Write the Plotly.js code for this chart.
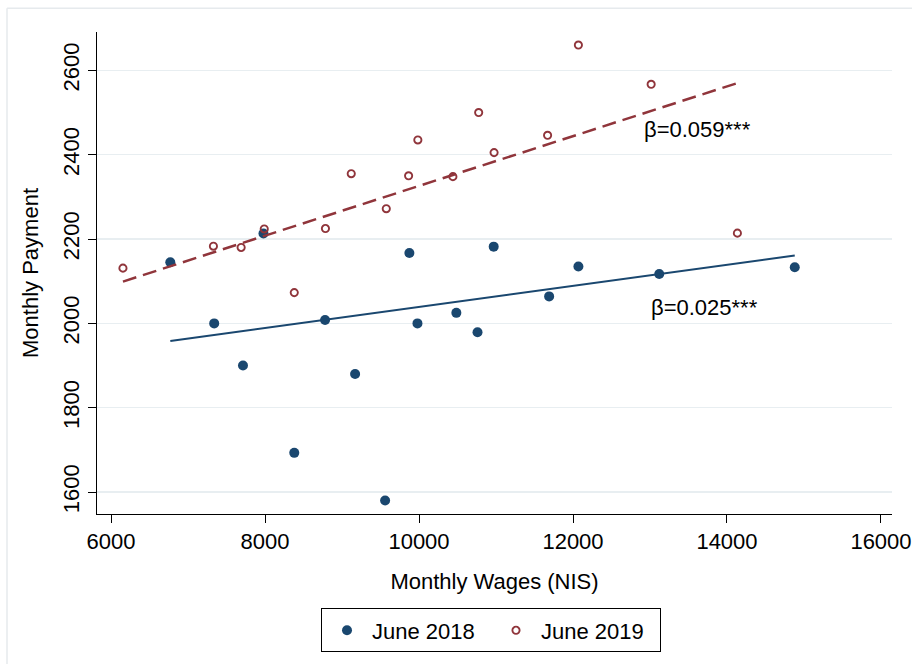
<!DOCTYPE html>
<html>
<head>
<meta charset="utf-8">
<script src="https://cdn.plot.ly/plotly-3.0.1.min.js"></script>
<style>
  html, body { margin: 0; padding: 0; background: #ffffff; }
  #chart { width: 912px; height: 664px; }
</style>
</head>
<body>
<div id="chart"></div>
<script>
// Monthly wages (NIS) and monthly payments, by survey wave
const wages2018 = [6770, 7980, 7340, 7714, 8380, 8780, 9170, 9560, 9875, 9980, 10485, 10760, 10970, 11690, 12070, 13120, 14880];
const payment2018 = [2145, 2213, 2000, 1900, 1693, 2008, 1880, 1580, 2167, 2000, 2025, 1979, 2182, 2064, 2135, 2117, 2133];

const wages2019 = [6155, 7330, 7690, 7990, 8380, 8785, 9120, 9575, 9865, 9985, 10440, 10775, 10975, 11670, 12070, 13015, 14135];
const payment2019 = [2131, 2183, 2180, 2224, 2073, 2225, 2355, 2272, 2350, 2435, 2348, 2500, 2405, 2446, 2660, 2567, 2214];

// Linear fits (slope = reported coefficient)
const seriesNames = ["June 2018", "June 2019"];
const fitSlopes = [0.025, 0.059];
const fitIntercepts = [1789, 1736];
const significance = ["***", "***"];

const xTicks = [6000, 8000, 10000, 12000, 14000, 16000];
const yTicks = [1600, 1800, 2000, 2200, 2400, 2600];

const navy = "#1a476f";
const maroon = "#90353b";
const font = "'Liberation Sans', Arial, Helvetica, sans-serif";

function fitLine(xs, slope, intercept) {
  const lo = Math.min(...xs), hi = Math.max(...xs);
  return { x: [lo, hi], y: [intercept + slope * lo, intercept + slope * hi] };
}
const fit2018 = fitLine(wages2018, fitSlopes[0], fitIntercepts[0]);
const fit2019 = fitLine(wages2019, fitSlopes[1], fitIntercepts[1]);

const traces = [
  {
    type: "scatter", mode: "markers", name: seriesNames[0],
    x: wages2018, y: payment2018,
    marker: { color: navy, size: 10, symbol: "circle" }
  },
  {
    type: "scatter", mode: "markers", name: seriesNames[1],
    x: wages2019, y: payment2019,
    marker: { color: maroon, size: 7.2, symbol: "circle-open", line: { color: maroon, width: 1.9 } }
  },
  {
    type: "scatter", mode: "lines", showlegend: false, hoverinfo: "skip",
    x: fit2018.x, y: fit2018.y,
    line: { color: navy, width: 2 }
  },
  {
    type: "scatter", mode: "lines", showlegend: false, hoverinfo: "skip",
    x: fit2019.x, y: fit2019.y,
    line: { color: maroon, width: 2.5, dash: "14px,7px" }
  }
];

const layout = {
  width: 912, height: 664,
  paper_bgcolor: "#ffffff", plot_bgcolor: "#ffffff",
  margin: { l: 97, r: 20, t: 32, b: 145 },
  font: { family: font, size: 22, color: "#000000" },
  showlegend: true,
  legend: {
    orientation: "h",
    x: 0.4956, xanchor: "center",
    y: -0.196, yanchor: "top",
    bordercolor: "#000000", borderwidth: 1,
    bgcolor: "#ffffff",
    itemwidth: 40,
    entrywidth: 114,
    font: { family: font, size: 22, color: "#000000" }
  },
  xaxis: {
    range: [5818, 16143],
    tickvals: xTicks, ticktext: xTicks.map(String),
    ticks: "outside", ticklen: 8, tickwidth: 1, tickcolor: "#000000",
    showline: true, linecolor: "#000000", linewidth: 1,
    showgrid: false, zeroline: false,
    tickfont: { family: font, size: 22, color: "#000000" },
    title: { text: "Monthly Wages (NIS)", font: { family: font, size: 22, color: "#000000" }, standoff: 20 }
  },
  yaxis: {
    range: [1548, 2691],
    tickvals: yTicks, ticktext: yTicks.map(String),
    tickangle: -90,
    ticks: "outside", ticklen: 8, tickwidth: 1, tickcolor: "#000000",
    showline: true, linecolor: "#000000", linewidth: 1,
    showgrid: true, gridcolor: "#e8eef1", gridwidth: 1.3,
    zeroline: false,
    tickfont: { family: font, size: 22, color: "#000000" },
    title: { text: "Monthly Payment", font: { family: font, size: 22, color: "#000000" }, standoff: 14 }
  },
  annotations: [
    {
      x: 12892, y: 2459, xref: "x", yref: "y",
      xanchor: "left", yanchor: "middle", showarrow: false,
      text: "β=" + fitSlopes[1].toFixed(3) + significance[1],
      font: { family: font, size: 22, color: "#000000" }
    },
    {
      x: 12990, y: 2037, xref: "x", yref: "y",
      xanchor: "left", yanchor: "middle", showarrow: false,
      text: "β=" + fitSlopes[0].toFixed(3) + significance[0],
      font: { family: font, size: 22, color: "#000000" }
    }
  ],
  shapes: [
    // outer graph-region frame
    { type: "line", xref: "paper", yref: "paper", x0: -0.1132, x1: 1.03, y0: 1.0493, y1: 1.0493,
      line: { color: "#e6eaed", width: 1.5 } },
    { type: "line", xref: "paper", yref: "paper", x0: -0.1132, x1: -0.1132, y0: 1.0493, y1: -0.32,
      line: { color: "#e6eaed", width: 1.5 } }
  ]
};

Plotly.newPlot("chart", traces, layout, { displayModeBar: false, staticPlot: true });
</script>
</body>
</html>
